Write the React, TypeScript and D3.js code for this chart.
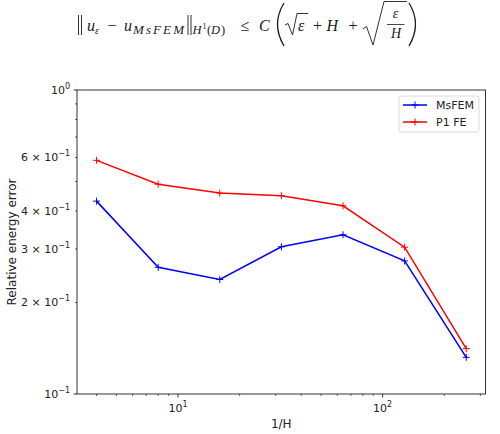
import React from 'react';
import * as d3 from 'd3';

// Refinement levels (1/H) and relative energy errors per method
const inverseH = [4, 8, 16, 32, 64, 128, 256];
const msfemError = [0.431, 0.261, 0.238, 0.305, 0.334, 0.274, 0.132];
const p1feError = [0.587, 0.49, 0.458, 0.449, 0.416, 0.304, 0.141];

const seriesNames = ['MsFEM', 'P1 FE'];
const seriesColors = ['#0000ff', '#ff0000'];

// Log-axis ticks
const xMajorTicks = [10, 100];
const xMajorExp = ['1', '2'];
const xMinorTicks = [4, 5, 6, 7, 8, 9, 20, 30, 40, 50, 60, 70, 80, 90, 200, 300];
const yMajorTicks = [1, 0.1];
const yMajorExp = ['0', '\u22121'];
const yMinorTicks = [0.2, 0.3, 0.4, 0.5, 0.6, 0.7, 0.8, 0.9];
const yMinorLabelled = [6, 4, 3, 2];

const WIDTH = 500;
const HEIGHT = 434;
const plot = { left: 77, right: 485.5, top: 90, bottom: 394 };

const tickFont = '"DejaVu Sans", sans-serif';
const mathFont = '"Liberation Serif", "DejaVu Serif", serif';
const TICK_SIZE = 11;
const SUP_SIZE = 8;
const LABEL_SIZE = 12;

function Formula() {
  const ink = '#1a1a1a';
  const it = { fontFamily: mathFont, fontStyle: 'italic' as const, fill: ink };
  const rm = { fontFamily: mathFont, fill: ink };
  return (
    <g>
      {/* ||u_eps - u_MsFEM||_{H^1(D)} */}
      <path d="M78.5,15V35M81.5,15V35M188,15V35M191,15V35" stroke={ink} strokeWidth={0.9} fill="none" />
      <text x={87} y={31} fontSize={16} {...it}>u</text>
      <text x={95} y={34} fontSize={10} {...it}>ε</text>
      <text x={112} y={31} fontSize={16} textAnchor="middle" {...rm}>−</text>
      <text x={124} y={31} fontSize={16} {...it}>u</text>
      <text x={133} y={34} fontSize={13} textLength={51} lengthAdjust="spacing" {...it}>MsFEM</text>
      <text x={192.5} y={34} fontSize={12.5} {...it}>H</text>
      <text x={202.5} y={29} fontSize={8} {...rm}>1</text>
      <text x={207} y={34} fontSize={12.5} {...rm}>(</text>
      <text x={211} y={34} fontSize={12.5} {...it}>D</text>
      <text x={221} y={34} fontSize={12.5} {...rm}>)</text>
      <text x={245} y={31} fontSize={16} textAnchor="middle" {...rm}>≤</text>
      <text x={259} y={31} fontSize={16} {...it}>C</text>
      {/* big left paren */}
      <path d="M284,3Q271,24 284,46" stroke={ink} strokeWidth={1.3} fill="none" />
      {/* sqrt(eps) */}
      <path d="M285,25L288,23.5L292.5,35L297,13.5H308" stroke={ink} strokeWidth={0.9} fill="none" />
      <text x={298} y={31} fontSize={16} {...it}>ε</text>
      <text x={317.5} y={31} fontSize={16} textAnchor="middle" {...rm}>+</text>
      <text x={326.5} y={31} fontSize={16} {...it}>H</text>
      <text x={353} y={31} fontSize={16} textAnchor="middle" {...rm}>+</text>
      {/* sqrt(eps / H) */}
      <path d="M363,29L366.5,26.5L373,45L384,1.5H407" stroke={ink} strokeWidth={0.9} fill="none" />
      <text x={395.5} y={18} fontSize={14} textAnchor="middle" {...it}>ε</text>
      <path d="M387,24.5H404.5" stroke={ink} strokeWidth={0.8} />
      <text x={396} y={38} fontSize={14} textAnchor="middle" {...it}>H</text>
      {/* big right paren */}
      <path d="M409,3Q422,24 409,46" stroke={ink} strokeWidth={1.3} fill="none" />
    </g>
  );
}

export default function App() {
  const x = d3.scaleLog().domain([3.21, 318]).range([plot.left, plot.right]);
  const y = d3.scaleLog().domain([0.1, 1]).range([plot.bottom, plot.top]);

  const series = [msfemError, p1feError].map((vals, i) => ({
    name: seriesNames[i],
    color: seriesColors[i],
    points: inverseH.map((h, j) => [h, vals[j]] as [number, number]),
  }));

  const line = d3
    .line<[number, number]>()
    .x((d) => x(d[0]))
    .y((d) => y(d[1]));

  const plus = (cx: number, cy: number, r = 3.5) => `M${cx - r},${cy}H${cx + r}M${cx},${cy - r}V${cy + r}`;

  const legend = { x: 399, y: 96, w: 80, h: 36 };

  return (
    <svg
      width={WIDTH}
      height={HEIGHT}
      style={{ position: 'absolute', left: 0, top: 0, background: '#fff' }}
    >
      <rect width={WIDTH} height={HEIGHT} fill="#fff" />
      <Formula />

      {/* series */}
      {series.map((s) => (
        <g key={s.name}>
          <path d={line(s.points) || ''} fill="none" stroke={s.color} strokeWidth={1.5} />
          {s.points.map((p, k) => (
            <path key={k} d={plus(x(p[0]), y(p[1]))} stroke={s.color} strokeWidth={1} />
          ))}
        </g>
      ))}

      {/* frame */}
      <rect
        x={plot.left}
        y={plot.top}
        width={plot.right - plot.left}
        height={plot.bottom - plot.top}
        fill="none"
        stroke="#000"
        strokeWidth={0.8}
      />

      {/* x ticks */}
      {xMinorTicks.map((t) => (
        <line key={t} x1={x(t)} x2={x(t)} y1={plot.bottom} y2={plot.bottom + 2} stroke="#000" strokeWidth={0.6} />
      ))}
      {xMajorTicks.map((t, i) => (
        <g key={t}>
          <line x1={x(t)} x2={x(t)} y1={plot.bottom} y2={plot.bottom + 3.5} stroke="#000" strokeWidth={0.8} />
          <text x={x(t)} y={411.5} textAnchor="middle" fontSize={TICK_SIZE} fontFamily={tickFont} fill="#222">
            10
            <tspan dy={-5} fontSize={SUP_SIZE}>{xMajorExp[i]}</tspan>
          </text>
        </g>
      ))}
      <text x={(plot.left + plot.right) / 2} y={428} textAnchor="middle" fontSize={LABEL_SIZE} fontFamily={tickFont} fill="#222">
        1/H
      </text>

      {/* y ticks */}
      {yMinorTicks.map((t) => (
        <line key={t} x1={plot.left - 2} x2={plot.left} y1={y(t)} y2={y(t)} stroke="#000" strokeWidth={0.6} />
      ))}
      {yMajorTicks.map((t, i) => (
        <g key={t}>
          <line x1={plot.left - 3.5} x2={plot.left} y1={y(t)} y2={y(t)} stroke="#000" strokeWidth={0.8} />
          <text x={70} y={y(t) + 4} textAnchor="end" fontSize={TICK_SIZE} fontFamily={tickFont} fill="#222">
            10
            <tspan dy={-5} fontSize={SUP_SIZE}>{yMajorExp[i]}</tspan>
          </text>
        </g>
      ))}
      {yMinorLabelled.map((m) => (
        <text key={m} x={70} y={y(m / 10) + 4} textAnchor="end" fontSize={TICK_SIZE} fontFamily={tickFont} fill="#222">
          {`${m} × 10`}
          <tspan dy={-5} fontSize={SUP_SIZE}>−1</tspan>
        </text>
      ))}
      <text
        transform={`translate(16,${(plot.top + plot.bottom) / 2}) rotate(-90)`}
        textAnchor="middle"
        fontSize={LABEL_SIZE}
        fontFamily={tickFont}
        fill="#222"
      >
        Relative energy error
      </text>

      {/* legend */}
      <rect
        x={legend.x}
        y={legend.y}
        width={legend.w}
        height={legend.h}
        rx={2.5}
        fill="#fff"
        fillOpacity={0.8}
        stroke="#d0d0d0"
        strokeWidth={0.8}
      />
      {series.map((s, i) => {
        const ly = 105 + i * 17;
        return (
          <g key={s.name}>
            <line x1={403} x2={427} y1={ly} y2={ly} stroke={s.color} strokeWidth={1.5} />
            <path d={plus(415, ly)} stroke={s.color} strokeWidth={1} />
            <text x={436} y={ly + 4} fontSize={TICK_SIZE} fontFamily={tickFont} fill="#222">
              {s.name}
            </text>
          </g>
        );
      })}
    </svg>
  );
}
